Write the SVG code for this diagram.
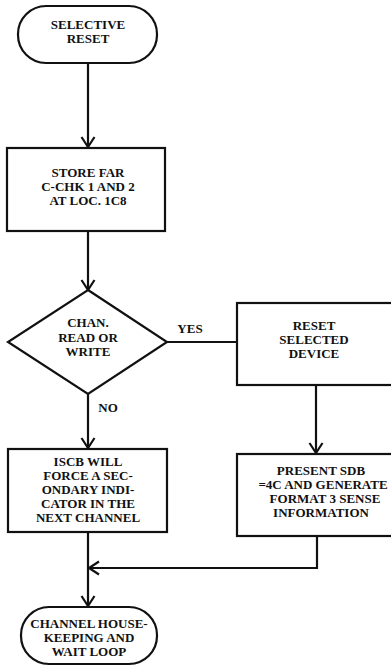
<svg xmlns="http://www.w3.org/2000/svg" width="391" height="666" viewBox="0 0 391 666">
<defs>
<style>
.s{fill:#fff;stroke:#111;stroke-width:2.2}
.c{fill:none;stroke:#111;stroke-width:2.2}
text{font-family:"Liberation Serif","Times New Roman",serif;font-weight:bold;font-size:13px;fill:#111;text-anchor:middle}
</style>
<marker id="ah" markerUnits="userSpaceOnUse" markerWidth="16" markerHeight="16" refX="11" refY="7" orient="auto" viewBox="0 0 16 14">
<path d="M1,0.5 L11,7 L1,13.5" fill="none" stroke="#111" stroke-width="2.2"/>
</marker>
</defs>
<rect width="391" height="666" fill="#fff"/>
<g id="connectors">
<line class="c" x1="88" y1="63" x2="88" y2="147" marker-end="url(#ah)"/>
<line class="c" x1="88" y1="231" x2="88" y2="290" marker-end="url(#ah)"/>
<line class="c" x1="167" y1="342" x2="237" y2="342"/>
<line class="c" x1="88" y1="394" x2="88" y2="448" marker-end="url(#ah)"/>
<line class="c" x1="316" y1="385" x2="316" y2="453" marker-end="url(#ah)"/>
<line class="c" x1="88" y1="532" x2="88" y2="606" marker-end="url(#ah)"/>
<polyline class="c" points="317,536 317,568 89,568" marker-end="url(#ah)"/>
<text x="190" y="333">YES</text>
<text x="108" y="412">NO</text>
</g>
<g id="start">
<rect class="s" x="18" y="6" width="139" height="57" rx="28" ry="28"/>
<text x="88" y="29">SELECTIVE</text>
<text x="88" y="43">RESET</text>
</g>
<g id="store">
<rect class="s" x="7" y="148" width="158" height="83"/>
<text x="88" y="177">STORE FAR</text>
<text x="88" y="191">C-CHK 1 AND 2</text>
<text x="88" y="205">AT LOC. 1C8</text>
</g>
<g id="decision">
<polygon class="s" points="88,290 167,342 88,394 8,342"/>
<text x="88" y="327">CHAN.</text>
<text x="88" y="342">READ OR</text>
<text x="88" y="356">WRITE</text>
</g>
<g id="reset">
<rect class="s" x="237" y="303" width="160" height="82"/>
<text x="314" y="330">RESET</text>
<text x="314" y="344">SELECTED</text>
<text x="314" y="358">DEVICE</text>
</g>
<g id="iscb">
<rect class="s" x="8" y="449" width="159" height="83"/>
<text x="88" y="466">ISCB WILL</text>
<text x="88" y="480">FORCE A SEC-</text>
<text x="88" y="494">ONDARY INDI-</text>
<text x="88" y="508">CATOR IN THE</text>
<text x="88" y="522">NEXT CHANNEL</text>
</g>
<g id="present">
<rect class="s" x="237" y="454" width="160" height="82"/>
<text x="321" y="475">PRESENT SDB</text>
<text x="323" y="489">=4C AND GENERATE</text>
<text x="325" y="503">FORMAT 3 SENSE</text>
<text x="321" y="517">INFORMATION</text>
</g>
<g id="end">
<rect class="s" x="21" y="607" width="136" height="57" rx="28" ry="28"/>
<text x="89" y="628">CHANNEL HOUSE-</text>
<text x="89" y="642">KEEPING AND</text>
<text x="89" y="656">WAIT LOOP</text>
</g>
</svg>
